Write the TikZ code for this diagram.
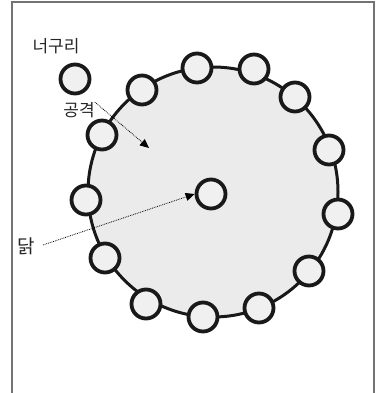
\documentclass[tikz,border=0pt]{standalone}
\usepackage{fontspec}
\newfontfamily\kr{Noto Sans CJK KR}
\usetikzlibrary{arrows.meta}
\begin{document}
\begin{tikzpicture}[x=1pt,y=-1pt,
  ball/.style={circle,draw=black!90,line width=3.8pt,fill=black!6,minimum size=29pt,inner sep=0pt},
  ringstyle/.style={circle,draw=black!90,line width=3pt,fill=black!8,minimum size=250pt,inner sep=0pt},
  lbl/.style={font=\kr\fontsize{17}{17}\selectfont,inner sep=0pt,text=black!85},
  dotarrow/.style={densely dotted,line width=0.8pt,-{Triangle[length=9pt,width=8pt]}},
  framestyle/.style={line width=1.2pt,black!55}]
\useasboundingbox (0,0) rectangle (375,393);
\draw[framestyle] (12,393) -- (12,2) -- (374,2) -- (374,393);
\node[ringstyle] (ring) at (213,192) {};
\node[ball] (c1) at (102,135) {};
\node[ball] (c2) at (142,90) {};
\node[ball] (c3) at (197,68) {};
\node[ball] (c4) at (254,69) {};
\node[ball] (c5) at (295,97) {};
\node[ball] (c6) at (329,150) {};
\node[ball] (c7) at (338,214) {};
\node[ball] (c8) at (309,271) {};
\node[ball] (c9) at (259,308) {};
\node[ball] (c10) at (203,317) {};
\node[ball] (c11) at (146,304) {};
\node[ball] (c12) at (105,258) {};
\node[ball] (c13) at (86,200) {};
\node[ball] (hen) at (211,194) {};
\node[ball] (raccoon) at (75,79) {};
\node[lbl] (tlabel) at (56,46) {너구리};
\node[lbl] (alabel) at (79,110) {공격};
\node[lbl,font=\kr\fontsize{19}{19}\selectfont] (hlabel) at (26,246) {닭};
\coordinate (atip) at (149,148);
\draw[dotarrow] (alabel.north east) -- (atip);
\draw[dotarrow] (hlabel.east) ++(8,-1) -- (hen.west);
\end{tikzpicture}
\end{document}
